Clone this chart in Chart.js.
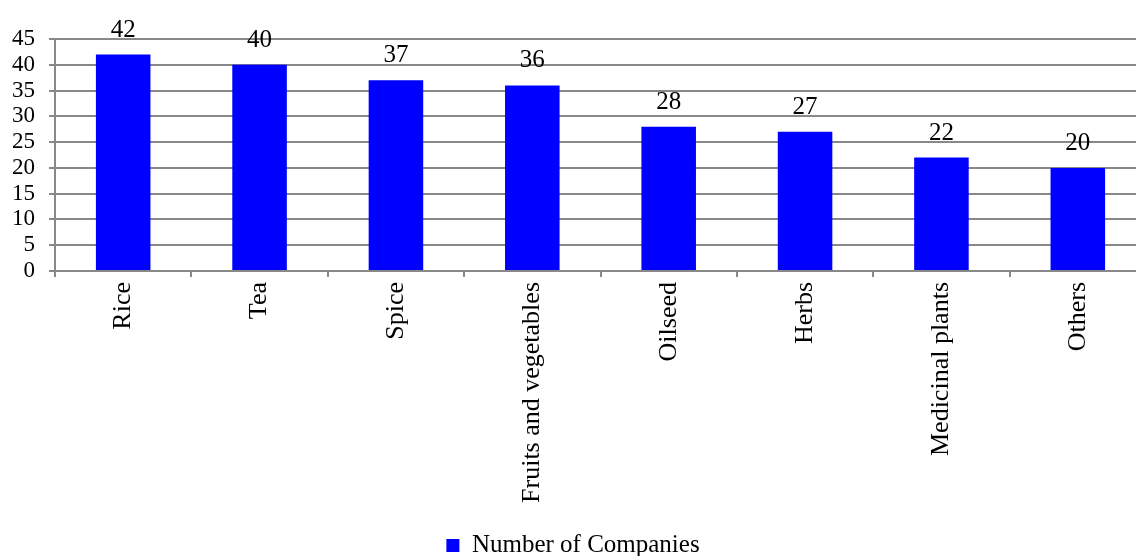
<!DOCTYPE html>
<html>
<head>
<meta charset="utf-8">
<script src="https://cdn.jsdelivr.net/npm/chart.js@4"></script>
<style>
  html, body { margin: 0; padding: 0; background: #fff; overflow: hidden; }
  #wrap { width: 1146px; height: 556px; }
</style>
</head>
<body>
<div id="wrap"><canvas id="c" width="1146" height="556"></canvas></div>
<script>
// Crop categories and how many companies export each
const categories = ['Rice', 'Tea', 'Spice', 'Fruits and vegetables', 'Oilseed', 'Herbs', 'Medicinal plants', 'Others'];
const companies = [42, 40, 37, 36, 28, 27, 22, 20];
const seriesName = 'Number of Companies';
const yMin = 0, yMax = 45, yStep = 5;

const FONT = '"Liberation Serif", "Times New Roman", serif';
const GRID = '#888888';

// Writes each bar's value above it
const valueLabels = {
  id: 'valueLabels',
  afterDatasetsDraw(chart) {
    const ctx = chart.ctx;
    const meta = chart.getDatasetMeta(0);
    ctx.save();
    ctx.font = '25px ' + FONT;
    ctx.fillStyle = '#000';
    ctx.textAlign = 'center';
    ctx.textBaseline = 'bottom';
    meta.data.forEach((bar, i) => {
      ctx.fillText(String(companies[i]), bar.x, bar.y - 12);
    });
    ctx.restore();
  }
};

new Chart(document.getElementById('c'), {
  type: 'bar',
  data: {
    labels: categories,
    datasets: [{
      label: seriesName,
      data: companies,
      backgroundColor: '#0000ff',
      borderWidth: 0,
      barPercentage: 0.8,
      categoryPercentage: 0.5
    }]
  },
  options: {
    responsive: false,
    animation: false,
    layout: { padding: { top: 39, right: 0, left: 0, bottom: -12 } },
    plugins: {
      legend: {
        position: 'bottom',
        labels: {
          color: '#000',
          font: { family: FONT, size: 25 },
          boxWidth: 13,
          boxHeight: 13,
          padding: 2
        }
      },
      tooltip: { enabled: false }
    },
    scales: {
      x: {
        grid: { display: true, drawOnChartArea: false, drawTicks: true, tickLength: 6, color: GRID, lineWidth: 2, offset: true },
        border: { color: GRID, width: 2 },
        ticks: {
          color: '#000',
          font: { family: FONT, size: 26 },
          minRotation: 90,
          maxRotation: 90,
          padding: 5,
          autoSkip: false
        },
        afterFit(scale) { scale.height = 260; }
      },
      y: {
        min: yMin,
        max: yMax,
        ticks: {
          stepSize: yStep,
          autoSkip: false,
          color: '#000',
          font: { family: FONT, size: 23 },
          padding: 14
        },
        grid: { color: GRID, lineWidth: 2, tickLength: 6 },
        border: { color: GRID, width: 2 },
        afterFit(scale) { scale.width = 55; }
      }
    }
  },
  plugins: [valueLabels]
});
</script>
</body>
</html>
